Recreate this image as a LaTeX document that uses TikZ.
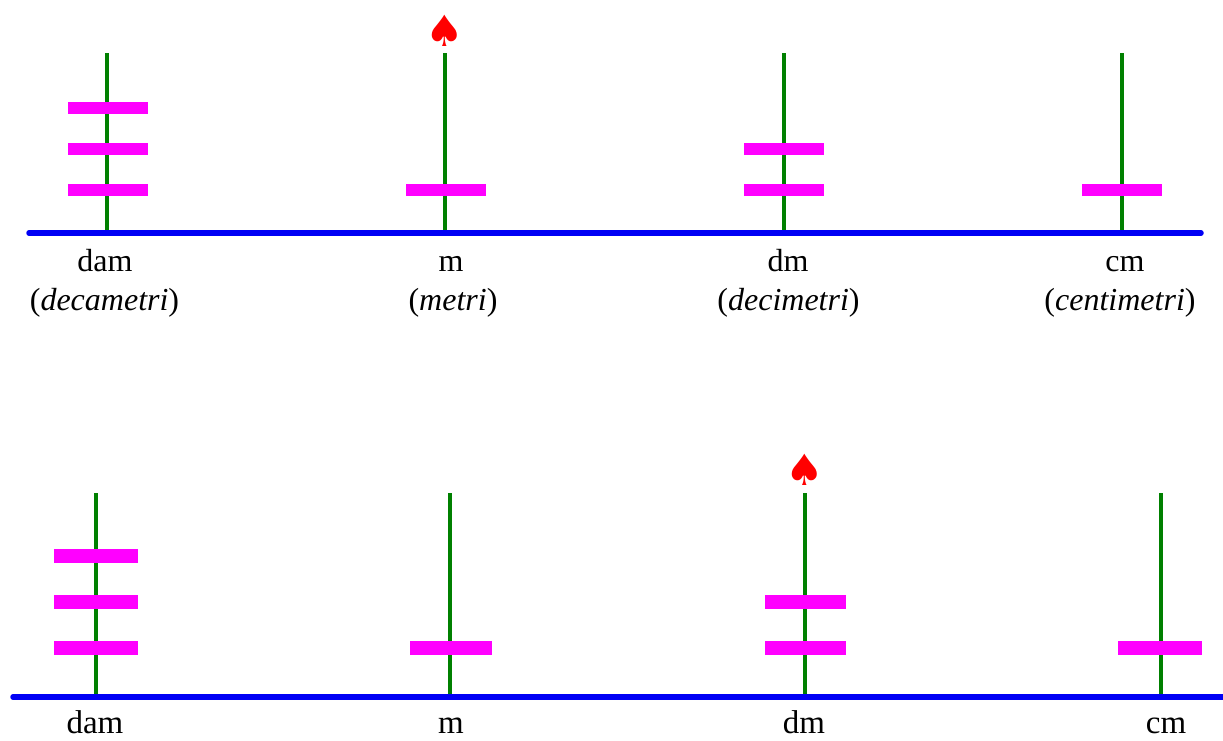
\documentclass[tikz,border=0pt]{standalone}
\usepackage{fontspec}
\setmainfont{Liberation Serif}
\newfontfamily\symfont{DejaVu Sans}
\tikzset{
  x=1pt,y=-1pt,
  ground/.style={draw={rgb,255:red,0;green,0;blue,245},line width=5.5pt,line cap=round},
  pole/.style={draw={rgb,255:red,0;green,128;blue,0},line width=4.5pt},
  bar/.style={fill={rgb,255:red,255;green,0;blue,255},inner sep=0pt,minimum height=12.5pt,minimum width=#1},
  bar/.default=80pt,
  lab/.style={inner sep=0pt,anchor=base,font=\fontsize{32}{36}\selectfont},
  labb/.style={inner sep=0pt,anchor=base,font=\fontsize{33}{36}\selectfont},
  spade/.style={inner sep=0pt,text={rgb,255:red,255;green,0;blue,0},font=\symfont\fontsize{43}{43}\selectfont},
}
\begin{document}
\begin{tikzpicture}
\useasboundingbox (0,0) rectangle (1223,740);
% top row
\coordinate (tgl) at (29,233); \coordinate (tgr) at (1201,233);
\foreach \n/\x in {a/107,b/445,c/784,d/1122}{
  \coordinate (t\n top) at (\x,53); \coordinate (t\n bot) at (\x,233);
  \draw[pole] (t\n top) -- (t\n bot);
}
\draw[ground] (tgl) -- (tgr);
\node[bar] (ta1) at (107.5,108) {};
\node[bar] (ta2) at (107.5,149) {};
\node[bar] (ta3) at (107.5,190) {};
\node[bar] (tb1) at (445.5,190) {};
\node[bar] (tc1) at (783.5,149) {};
\node[bar] (tc2) at (783.5,190) {};
\node[bar] (td1) at (1121.5,190) {};
\node[spade] (ts) at (445,31) {♠};
\node[lab] (l1) at (105,271) {dam};
\node[lab] (l2) at (104.5,310) {(\textit{decametri})};
\node[lab] (l3) at (451,271) {m};
\node[lab] (l4) at (453,310) {(\textit{metri})};
\node[lab] (l5) at (788,271) {dm};
\node[lab] (l6) at (788.5,310) {(\textit{decimetri})};
\node[lab] (l7) at (1125,271) {cm};
\node[lab] (l8) at (1120,310) {(\textit{centimetri})};
% bottom row
\coordinate (bgl) at (13,697); \coordinate (bgr) at (1230,697);
\foreach \n/\x in {a/96,b/450,c/805,d/1161}{
  \coordinate (b\n top) at (\x,493); \coordinate (b\n bot) at (\x,697);
  \draw[pole] (b\n top) -- (b\n bot);
}
\draw[ground] (bgl) -- (bgr);
\node[bar=84pt,minimum height=14pt] (ba1) at (96,556) {};
\node[bar=84pt,minimum height=14pt] (ba2) at (96,602) {};
\node[bar=84pt,minimum height=14pt] (ba3) at (96,648) {};
\node[bar=82pt,minimum height=14pt] (bb1) at (451,648) {};
\node[bar=81pt,minimum height=14pt] (bc1) at (805.5,602) {};
\node[bar=81pt,minimum height=14pt] (bc2) at (805.5,648) {};
\node[bar=84pt,minimum height=14pt] (bd1) at (1160,648) {};
\node[spade] (bs) at (805,470) {♠};
\node[labb] (m1) at (95,733.5) {dam};
\node[labb] (m2) at (451,733.5) {m};
\node[labb] (m3) at (804,733.5) {dm};
\node[labb] (m4) at (1166,733.5) {cm};
\end{tikzpicture}
\end{document}
